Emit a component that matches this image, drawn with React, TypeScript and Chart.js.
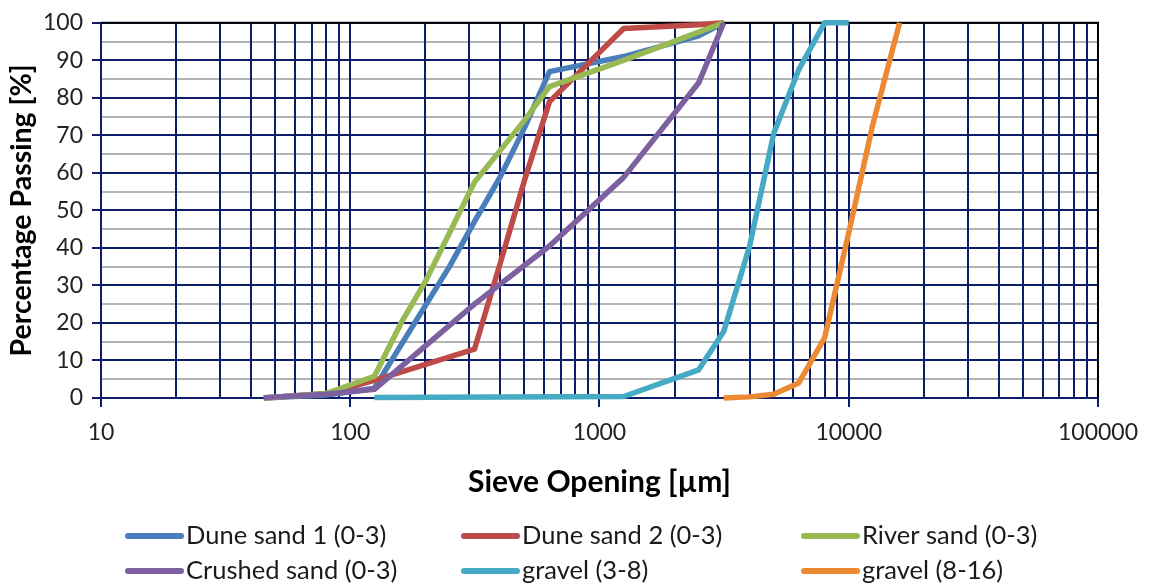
import React, { useEffect, useRef } from "react";
import { Chart, registerables } from "chart.js";

Chart.register(...registerables);

// ---- data (sieve opening in µm, percentage passing) ----
const seriesNames = [
  "Dune sand 1 (0-3)",
  "Dune sand 2 (0-3)",
  "River sand (0-3)",
  "Crushed sand (0-3)",
  "gravel (3-8)",
  "gravel (8-16)",
];
const seriesColors = ["#4a7ebb", "#be4b48", "#98b954", "#7d60a0", "#46aac5", "#ec8a34"];

const duneSand1Sieve = [45, 80, 125, 250, 315, 400, 500, 630, 1250, 2500, 3150];
const duneSand1Passing = [0, 0.8, 2.6, 35, 47, 59, 72, 87, 91, 96.5, 100];

const duneSand2Sieve = [45, 80, 125, 315, 400, 500, 630, 1250, 2500, 3150];
const duneSand2Passing = [0, 1.2, 4.7, 13, 36, 58, 79, 98.5, 99.5, 100];

const riverSandSieve = [45, 80, 125, 160, 200, 250, 315, 400, 500, 630, 1250, 2500, 3150];
const riverSandPassing = [0, 1.2, 5.8, 20, 31, 44, 57.5, 66, 74, 83, 90, 97.5, 100];

const crushedSandSieve = [45, 80, 125, 315, 630, 1250, 2500, 3150];
const crushedSandPassing = [0.1, 1, 2.3, 25, 40.5, 58.8, 84, 100];

const gravel38Sieve = [125, 1250, 2500, 3150, 4000, 5000, 6300, 8000, 10000];
const gravel38Passing = [0.1, 0.4, 7.5, 17.7, 40.4, 70.5, 87.5, 100, 100];

const gravel816Sieve = [3150, 4000, 5000, 6300, 8000, 10000, 12500, 16000];
const gravel816Passing = [0, 0.3, 1, 4, 16, 44, 73, 100];

const seriesSieves = [duneSand1Sieve, duneSand2Sieve, riverSandSieve, crushedSandSieve, gravel38Sieve, gravel816Sieve];
const seriesPassing = [duneSand1Passing, duneSand2Passing, riverSandPassing, crushedSandPassing, gravel38Passing, gravel816Passing];

// ---- axes ----
const xMajorTicks = [10, 100, 1000, 10000, 100000];
const xMinorFactors = [2, 3, 4, 5, 6, 7, 8, 9];
const yLabelTicks = [0, 10, 20, 30, 40, 50, 60, 70, 80, 90, 100];
const yMinorTicks = [5, 15, 25, 35, 45, 55, 65, 75, 85, 95];

const xTitle = "Sieve Opening [µm]";
const yTitle = "Percentage Passing [%]";

const NAVY = "#0d1c68";
const GRAY = "#b4b4b4";
const FONT = "Lato";

const xAllTicks: number[] = [];
xMajorTicks.forEach((m, i) => {
  xAllTicks.push(m);
  if (i < xMajorTicks.length - 1) xMinorFactors.forEach((f) => xAllTicks.push(m * f));
});
const yAllTicks = [...yLabelTicks, ...yMinorTicks].sort((a, b) => a - b);

const frameAndLegend = {
  id: "frameAndLegend",
  beforeDatasetsDraw(chart: any) {
    const { ctx, chartArea } = chart;
    ctx.save();
    ctx.strokeStyle = "#000";
    ctx.lineWidth = 2;
    ctx.beginPath();
    ctx.moveTo(chartArea.left, chartArea.top);
    ctx.lineTo(chartArea.right, chartArea.top);
    ctx.lineTo(chartArea.right, chartArea.bottom);
    ctx.stroke();
    ctx.restore();
  },
  afterDraw(chart: any) {
    const { ctx } = chart;
    const colX = [125, 461, 801];
    const rowY = [536, 571];
    ctx.save();
    chart.data.datasets.forEach((ds: any, i: number) => {
      const x = colX[i % 3];
      const y = rowY[Math.floor(i / 3)];
      ctx.strokeStyle = ds.borderColor;
      ctx.lineWidth = 6;
      ctx.lineCap = "round";
      ctx.beginPath();
      ctx.moveTo(x + 3, y);
      ctx.lineTo(x + 56, y);
      ctx.stroke();
      ctx.fillStyle = "#1a1a1a";
      ctx.font = `25.5px ${FONT}`;
      ctx.textBaseline = "middle";
      ctx.textAlign = "left";
      ctx.fillText(ds.label, x + 61, y);
    });
    ctx.restore();
  },
};

export default function App() {
  const canvasRef = useRef<HTMLCanvasElement>(null);

  useEffect(() => {
    if (!canvasRef.current) return;
    const n = seriesNames.length;
    const chart = new Chart(canvasRef.current, {
      type: "line",
      data: {
        datasets: seriesNames.map((name, i) => ({
          label: name,
          data: seriesSieves[i].map((s, j) => ({ x: s, y: seriesPassing[i][j] })),
          borderColor: seriesColors[i],
          backgroundColor: seriesColors[i],
          borderWidth: 5.5,
          pointRadius: 0,
          tension: 0,
          borderJoinStyle: "round",
          borderCapStyle: "butt",
          clip: false,
          order: n - i,
        })),
      },
      options: {
        animation: false,
        responsive: true,
        maintainAspectRatio: false,
        layout: { padding: { left: 0, top: 18, right: 50, bottom: 89 } },
        plugins: { legend: { display: false }, tooltip: { enabled: false } },
        scales: {
          x: {
            type: "logarithmic",
            min: 10,
            max: 100000,
            afterBuildTicks: (scale: any) => {
              scale.ticks = xAllTicks.map((v) => ({ value: v }));
            },
            afterFit: (scale: any) => {
              scale.height = 100;
            },
            ticks: {
              autoSkip: false,
              maxRotation: 0,
              minRotation: 0,
              padding: 12,
              color: "#222",
              font: { family: FONT, size: 23 },
              callback: (v: any) => (xMajorTicks.includes(Number(v)) ? String(v) : ""),
            },
            grid: {
              color: NAVY,
              lineWidth: 2,
              tickLength: 9,
              tickColor: (ctx: any) => (ctx.tick && xMajorTicks.includes(ctx.tick.value) ? NAVY : "rgba(0,0,0,0)"),
            },
            border: { color: NAVY, width: 2 },
            title: {
              display: true,
              text: xTitle,
              color: "#000",
              font: { family: FONT, size: 30, weight: "bold" },
              padding: { top: 0, bottom: -2 },
            },
          },
          y: {
            min: 0,
            max: 100,
            afterBuildTicks: (scale: any) => {
              scale.ticks = yAllTicks.map((v) => ({ value: v }));
            },
            afterFit: (scale: any) => {
              scale.width = 101;
            },
            ticks: {
              autoSkip: false,
              padding: 9,
              color: "#222",
              font: { family: FONT, size: 23 },
              callback: (v: any) => (yLabelTicks.includes(Number(v)) ? String(v) : ""),
            },
            grid: {
              z: -2,
              color: (ctx: any) => (ctx.tick && yLabelTicks.includes(ctx.tick.value) ? NAVY : GRAY),
              lineWidth: 2,
              tickLength: 9,
              tickColor: (ctx: any) => (ctx.tick && yLabelTicks.includes(ctx.tick.value) ? NAVY : "rgba(0,0,0,0)"),
            },
            border: { color: NAVY, width: 2 },
            title: {
              display: true,
              text: yTitle,
              color: "#000",
              font: { family: FONT, size: 28.5, weight: "bold" },
              padding: { top: 5, bottom: 0 },
            },
          },
        },
      } as any,
      plugins: [frameAndLegend],
    });
    return () => chart.destroy();
  }, []);

  return (
    <div style={{ position: "fixed", left: 0, top: 0, width: 1150, height: 587, background: "#fff" }}>
      <canvas ref={canvasRef} />
    </div>
  );
}
